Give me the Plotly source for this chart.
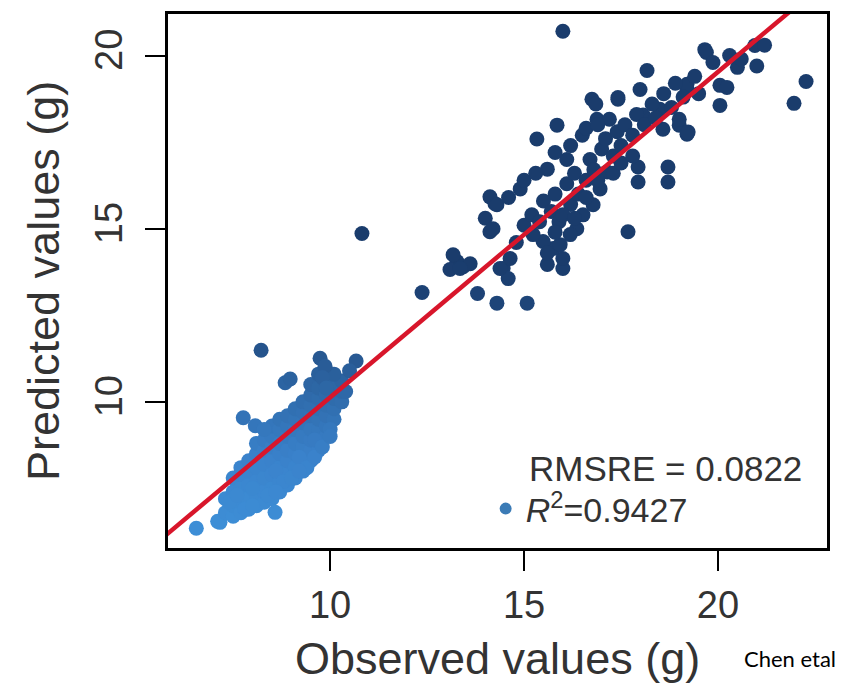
import plotly.graph_objects as go

# ---------------- data ----------------
# lower (light) cluster: observed, predicted
low_obs = [
    6.55, 7.16, 7.1, 7.3, 7.3,
    7.5, 7.5, 7.5, 7.5,
    7.7, 7.7, 7.7, 7.7, 7.7,
    7.9, 7.9, 7.9, 7.9, 7.9,
    8.1, 8.1, 8.1, 8.1, 8.1, 8.1,
    8.3, 8.3, 8.3, 8.3, 8.3, 8.3,
    8.5, 8.5, 8.5, 8.5, 8.5, 8.5, 8.5,
    8.7, 8.7, 8.7, 8.7, 8.7, 8.7, 8.7,
    8.9, 8.9, 8.9, 8.9, 8.9, 8.9, 8.9,
    9.1, 9.1, 9.1, 9.1, 9.1, 9.1, 9.1,
    9.3, 9.3, 9.3, 9.3, 9.3, 9.3, 9.3,
    9.5, 9.5, 9.5, 9.5, 9.5, 9.5, 9.5, 9.5,
    9.7, 9.7, 9.7, 9.7, 9.7, 9.7, 9.7, 9.7,
    9.9, 9.9, 9.9, 9.9, 9.9, 9.9,
    10.1, 10.1, 10.1, 10.1,
    10.3, 10.3, 10.3, 10.4, 10.1,
    8.22, 9.74, 9.87, 10.67, 10.5, 8.84, 8.97, 7.76, 8.07, 8.3, 8.58,
    9.8, 9.9, 7.4, 7.6, 8.0, 8.6, 9.2, 9.6, 10.0,
    9.4, 9.6, 9.8, 10.0, 8.8, 9.0, 9.2, 8.4, 8.6, 7.8, 8.0,
]
low_pred = [
    6.35, 6.52, 6.55, 6.8, 7.2,
    6.7, 7.0, 7.4, 7.8,
    6.8, 7.1, 7.5, 7.9, 8.1,
    6.9, 7.2, 7.6, 8.0, 8.3,
    7.0, 7.3, 7.7, 8.1, 8.5, 8.8,
    7.1, 7.4, 7.8, 8.2, 8.6, 8.9,
    7.2, 7.5, 7.9, 8.3, 8.7, 9.0, 9.3,
    7.4, 7.7, 8.1, 8.5, 8.8, 9.2, 9.5,
    7.6, 7.9, 8.3, 8.6, 9.0, 9.3, 9.6,
    7.8, 8.1, 8.5, 8.8, 9.2, 9.5, 9.8,
    8.0, 8.3, 8.7, 9.0, 9.4, 9.7, 10.0,
    8.3, 8.6, 8.9, 9.2, 9.6, 9.9, 10.2, 10.5,
    8.6, 8.9, 9.2, 9.5, 9.8, 10.1, 10.4, 10.8,
    9.0, 9.3, 9.6, 9.9, 10.2, 10.5,
    9.5, 9.8, 10.1, 10.4,
    10.0, 10.3, 10.6, 10.3, 10.8,
    11.49, 11.26, 11.03, 11.18, 10.9, 10.55, 10.66, 9.54, 9.31, 9.2, 6.81,
    10.7, 10.4, 7.1, 7.3, 7.5, 8.0, 8.4, 8.9, 9.2,
    8.1, 8.4, 8.7, 9.0, 7.7, 7.8, 8.0, 7.3, 7.4, 6.9, 7.0,
]

# upper (dark) cluster: observed, predicted
high_obs = [
    10.82, 12.37, 13.27, 13.43, 13.09, 13.61, 13.8, 14.3, 15.08, 13.17, 13.35,
    14.12, 14.25, 14.12, 14.46, 14.59,
    14.3, 14.9, 15.6, 16.1, 16.5, 16.88,
    15.33, 15.85, 16.75, 17.42, 18.17, 19.66, 20.95, 20.05,
    17.94, 17.94, 18.71, 18.71, 17.68,
    16.0, 16.0, 15.75, 15.49,
    17.99, 18.5, 19.2, 19.0, 19.2, 18.58, 20.05, 20.5, 19.7, 19.87,
    17.14, 16.96, 16.78, 16.52, 16.36, 16.19, 15.93, 15.6, 15.23, 14.64, 14.38,
    16.0, 22.27, 21.96,
    17.42, 18.07, 17.2, 19.0, 19.23, 20.23, 19.2,
    14.8, 15.0, 15.2, 15.4, 15.5, 15.7, 15.8, 15.9, 16.1, 16.2, 16.3, 16.4,
    16.6, 16.7, 16.8, 17.0, 17.1, 17.3, 17.4, 17.5, 17.6, 17.8, 17.9, 18.1,
    18.3, 18.4, 18.6, 18.8, 18.9, 19.1, 19.4, 19.5, 20.3, 20.6, 21.2, 21.0,
    14.0, 14.2, 14.6, 15.0, 15.3, 15.8, 16.2, 16.6,
    15.6, 15.8, 16.0, 16.3, 16.6, 16.9, 17.3, 17.5, 17.8,
    16.85, 16.9,
]
high_pred = [
    14.86, 13.16, 14.05, 13.9, 13.82, 13.99, 13.13, 12.85, 12.85, 14.25, 13.85,
    14.91, 15.72, 15.92, 13.85, 13.56,
    15.69, 16.15, 16.72, 17.0, 17.7, 18.16,
    17.59, 17.99, 18.74, 18.74, 19.57, 20.17, 20.29, 18.56,
    16.78, 16.35, 16.78, 16.35, 14.91,
    13.85, 14.14, 14.43, 14.63,
    19.02, 18.45, 19.02, 17.99, 17.73, 17.87, 19.14, 19.66, 20.09, 19.8,
    16.64, 16.15, 15.69, 15.4, 15.0, 14.83, 14.54, 13.97, 14.83, 14.14, 13.85,
    20.7, 19.25, 18.62,
    18.79, 18.28, 18.16, 18.16, 17.79, 19.08, 19.17,
    14.6, 15.1, 15.4, 15.2, 15.8, 15.5, 16.0, 15.2, 16.3, 15.7, 16.6, 16.0,
    16.4, 17.0, 16.7, 17.3, 17.6, 17.1, 17.8, 17.4, 18.0, 17.7, 18.3, 18.0,
    18.6, 18.2, 18.9, 18.5, 19.2, 18.8, 19.4, 18.9, 20.0, 19.9, 20.3, 19.7,
    15.3, 15.0, 15.9, 16.4, 16.6, 17.2, 17.4, 17.9,
    14.3, 14.9, 15.4, 15.3, 15.9, 16.4, 16.6, 16.9, 17.1,
    18.6, 18.0,
]

fit_slope = 0.94
fit_intercept = 0.73
x_range = [5.82, 22.81]
y_range = [5.78, 21.2]
x_ticks = [10, 15, 20]
y_ticks = [10, 15, 20]

rmsre_text = "RMSRE = 0.0822"
r2_text = "<i>R</i><sup>2</sup>=0.9427"

obs = low_obs + high_obs
pred = low_pred + high_pred

fig = go.Figure()

fig.add_trace(go.Scatter(
    x=obs, y=pred, mode="markers", showlegend=False,
    marker=dict(
        size=15, color=pred, cmin=6.5, cmax=14,
        colorscale=[[0.0, "#3d8ed6"], [0.25, "#3a82cb"], [0.47, "#306dae"],
                    [0.67, "#25538b"], [0.87, "#1d4377"], [1.0, "#1a3c6c"]],
        line=dict(width=0),
    ),
))

fit_x = [x_range[0] - 1, x_range[1] + 1]
fit_y = [fit_intercept + fit_slope * v for v in fit_x]
fig.add_trace(go.Scatter(
    x=fit_x, y=fit_y, mode="lines", showlegend=False,
    line=dict(color="#d8162b", width=4.5),
))

# legend entry (dot + R^2 text)
fig.add_trace(go.Scatter(
    x=[None], y=[None], mode="markers", name=r2_text, showlegend=True,
    marker=dict(size=12, color="#3b7bb6"),
))

axis_common = dict(
    showline=True, mirror=True, linecolor="black", linewidth=2.5,
    ticks="outside", ticklen=20, tickwidth=2, tickcolor="black",
    showgrid=False, zeroline=False,
    tickfont=dict(family="Liberation Sans", size=38, color="#333"),
)

fig.update_layout(
    width=842, height=682,
    margin=dict(l=160, r=23, t=3, b=142),
    paper_bgcolor="white", plot_bgcolor="white",
    xaxis=dict(range=x_range, tickvals=x_ticks, ticklabelstandoff=2, **axis_common),
    yaxis=dict(range=y_range, tickvals=y_ticks, tickangle=-90, ticklabelstandoff=8, **axis_common),
    legend=dict(
        x=0.482, y=0.073, xanchor="left", yanchor="middle",
        bgcolor="rgba(0,0,0,0)", borderwidth=0,
        font=dict(family="Liberation Sans", size=34, color="#333"),
        itemsizing="constant",
    ),
    annotations=[
        dict(text="Observed values (g)", xref="paper", yref="paper", x=0.5, y=0,
             yshift=-110, xanchor="center", yanchor="middle", showarrow=False,
             font=dict(family="Liberation Sans", size=45, color="#333")),
        dict(text="Predicted values (g)", xref="paper", yref="paper", x=0, y=0.5,
             xshift=-125, xanchor="center", yanchor="middle", textangle=-90, showarrow=False,
             font=dict(family="Liberation Sans", size=45, color="#333")),
        dict(text=rmsre_text, xref="paper", yref="paper", x=0.545, y=0.149,
             xanchor="left", yanchor="middle", showarrow=False,
             font=dict(family="Liberation Sans", size=35, color="#333")),
        dict(text="Chen etal", xref="paper", yref="paper", x=0.944, y=0,
             yshift=-110, xanchor="center", yanchor="middle", showarrow=False,
             font=dict(family="Lato", size=22, color="black")),
    ],
)

fig.write_html("out.html")
